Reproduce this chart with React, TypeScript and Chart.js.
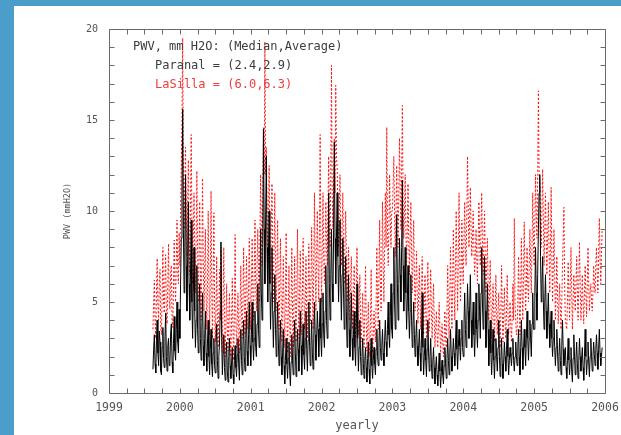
import { useEffect, useRef } from "react";
import { Chart, registerables } from "chart.js";

Chart.register(...registerables);

// ---- axis / labels ----
const xMin = 1999;
const xMax = 2006;
const yMin = 0;
const yMax = 20;
const xTitle = "yearly";
const yTitle = "PWV (mmH2O)";
const headerText = "PWV, mm H2O: (Median,Average)";
const paranalText = "Paranal = (2.4,2.9)";
const lasillaText = "LaSilla = (6.0,6.3)";

// ---- sampling: one reading every 0.01 yr ----
const sampleStep = 0.01;
const segmentStarts = [1999.62, 2000, 2001, 2002, 2003, 2004, 2005];

// ---- Paranal (black) ----
const paranal1999 = [
  1.3, 2.4, 3.2, 1.6, 1.1, 2.9, 4.0, 2.2, 1.5, 3.4,
  2.8, 1.2, 1.0, 2.5, 3.6, 1.9, 1.4, 3.1, 4.4, 2.0,
  1.2, 2.6, 3.0, 1.5, 1.6, 3.3, 3.8, 1.7, 1.1, 2.7,
  4.2, 2.3, 1.8, 3.5, 5.0, 2.8, 2.2, 4.6,
];
const paranal2000 = [
  3.0, 6.0, 8.5, 11.0, 15.6, 9.0, 5.5, 8.0, 12.0, 7.0,
  4.5, 7.5, 10.5, 6.0, 4.0, 6.5, 9.5, 5.0, 3.0, 5.5,
  8.0, 4.5, 2.5, 4.0, 7.0, 3.5, 2.2, 4.8, 6.0, 3.0,
  1.8, 3.5, 5.5, 2.6, 1.5, 3.0, 4.5, 2.2, 1.2, 2.8,
  4.0, 2.0, 1.0, 2.4, 3.5, 1.6, 0.9, 2.2, 3.0, 1.5,
  1.1, 2.6, 3.8, 1.8, 0.8, 2.0, 2.8, 4.5, 8.3, 3.0,
  1.0, 2.2, 3.2, 1.4, 0.7, 1.9, 2.8, 1.2, 0.6, 2.0,
  3.0, 1.5, 0.8, 1.7, 2.5, 1.0, 0.5, 1.8, 2.6, 1.4,
  0.9, 2.1, 3.0, 1.6, 0.7, 2.4, 3.5, 1.8, 1.0, 2.6,
  4.0, 2.0, 1.2, 3.0, 4.5, 2.3, 1.5, 3.2, 5.0, 2.6,
];
const paranal2001 = [
  1.5, 3.2, 5.0, 2.8, 1.8, 3.0, 4.5, 2.5, 2.0, 3.8,
  6.0, 3.5, 2.5, 5.0, 9.0, 5.5, 4.0, 8.0, 14.5, 9.0,
  6.0, 9.5, 13.0, 8.0, 5.0, 7.5, 10.0, 6.0, 3.5, 5.5,
  8.0, 4.5, 2.5, 4.5, 6.5, 3.5, 2.0, 3.5, 5.0, 2.8,
  1.5, 2.8, 4.0, 2.0, 1.0, 2.2, 3.5, 1.5, 0.5, 1.8,
  3.0, 1.6, 0.8, 1.9, 2.8, 1.2, 0.4, 1.7, 3.2, 1.8,
  1.0, 2.5, 4.0, 2.2, 0.9, 2.0, 3.5, 2.4, 1.2, 2.8,
  4.5, 2.6, 1.0, 2.5, 3.8, 2.1, 1.3, 3.0, 4.5, 2.4,
  1.2, 2.9, 5.0, 2.8, 1.5, 2.6, 4.0, 2.2, 1.3, 3.0,
  5.0, 3.2, 1.8, 3.0, 4.5, 3.5, 2.0, 3.6, 5.2, 3.0,
];
const paranal2002 = [
  2.0, 3.8, 5.5, 3.2, 2.5, 4.5, 7.0, 4.0, 3.0, 6.5,
  11.0, 6.0, 4.0, 6.5, 9.0, 6.0, 5.0, 9.0, 13.8, 8.5,
  6.0, 8.5, 11.0, 7.5, 5.0, 7.0, 9.5, 6.0, 4.0, 6.5,
  8.5, 5.5, 3.5, 5.5, 7.5, 4.5, 2.5, 4.5, 6.5, 3.5,
  2.0, 3.5, 5.5, 3.0, 1.8, 3.2, 4.5, 2.5, 1.5, 3.5,
  6.0, 3.0, 1.2, 2.5, 4.0, 2.0, 1.0, 2.0, 3.0, 1.6,
  0.8, 1.8, 2.5, 1.4, 0.6, 1.9, 2.8, 1.3, 0.5, 2.0,
  3.0, 1.5, 0.8, 1.8, 2.5, 1.6, 1.0, 2.4, 3.5, 2.0,
  1.5, 2.8, 4.0, 2.5, 1.8, 2.6, 3.5, 2.2, 1.5, 2.9,
  4.0, 2.8, 2.0, 3.5, 5.0, 3.2, 2.5, 4.2, 6.0, 3.5,
];
const paranal2003 = [
  3.0, 5.5, 8.0, 5.0, 3.5, 6.5, 9.8, 6.0, 4.0, 6.0,
  8.5, 6.5, 5.0, 8.0, 11.7, 7.0, 4.5, 6.0, 8.0, 5.5,
  3.5, 5.0, 7.0, 4.5, 3.0, 4.5, 6.5, 4.0, 2.5, 3.8,
  5.0, 3.2, 2.0, 3.0, 4.0, 2.6, 1.5, 2.5, 3.5, 2.2,
  1.2, 3.0, 5.5, 2.5, 1.0, 2.0, 3.0, 1.8, 0.9, 2.4,
  4.0, 2.2, 1.2, 2.0, 3.0, 1.6, 0.8, 1.7, 2.5, 1.4,
  0.5, 1.4, 2.0, 1.0, 0.4, 1.3, 2.2, 1.2, 0.3, 1.1,
  1.8, 1.0, 0.5, 1.5, 2.5, 1.6, 0.8, 1.9, 3.0, 1.8,
  1.0, 2.2, 3.5, 2.0, 1.2, 2.1, 3.0, 2.2, 1.5, 2.8,
  4.0, 2.4, 1.3, 2.5, 3.5, 2.6, 1.8, 3.0, 4.0, 2.5,
];
const paranal2004 = [
  2.0, 3.8, 5.5, 3.5, 2.5, 4.0, 6.0, 4.5, 3.0, 4.8,
  6.5, 4.0, 2.5, 3.8, 5.0, 3.2, 2.0, 3.5, 5.5, 3.5,
  2.5, 4.0, 6.0, 4.5, 3.0, 5.5, 8.0, 5.0, 3.5, 5.5,
  7.5, 4.5, 2.5, 4.0, 6.0, 3.5, 1.5, 2.8, 4.0, 2.2,
  1.0, 2.2, 3.5, 1.8, 0.8, 2.0, 3.0, 2.0, 1.2, 2.5,
  4.0, 2.0, 0.9, 1.8, 3.0, 1.6, 0.8, 1.7, 2.8, 2.0,
  1.2, 2.4, 3.5, 2.0, 1.0, 1.8, 2.5, 2.0, 1.5, 2.2,
  3.0, 1.8, 1.2, 2.0, 2.8, 2.0, 1.5, 2.6, 3.5, 2.0,
  1.0, 2.5, 4.0, 2.5, 1.3, 2.3, 3.5, 2.5, 1.5, 3.0,
  4.5, 3.0, 1.8, 3.0, 4.0, 3.0, 2.0, 3.8, 5.5, 3.5,
];
const paranal2005 = [
  3.5, 5.5, 8.0, 5.5, 4.0, 6.5, 9.0, 11.0, 12.0, 7.5,
  5.0, 6.0, 7.5, 5.0, 3.5, 5.0, 6.5, 4.5, 3.0, 4.2,
  5.5, 3.8, 2.5, 3.5, 4.5, 3.0, 2.0, 3.0, 4.0, 2.5,
  1.5, 2.5, 3.5, 2.2, 1.2, 2.0, 3.0, 1.8, 1.0, 2.6,
  4.0, 2.4, 1.5, 2.0, 2.5, 1.4, 0.8, 1.8, 3.0, 1.8,
  1.0, 1.8, 2.5, 1.2, 0.6, 1.9, 3.2, 2.0, 1.0, 1.9,
  2.8, 1.6, 0.8, 1.8, 3.0, 2.0, 1.2, 1.9, 2.5, 1.4,
  0.7, 2.0, 3.5, 2.0, 1.0, 1.8, 2.8, 1.7, 0.9, 2.0,
  3.0, 2.0, 1.2, 2.0, 2.8, 2.1, 1.5, 2.4, 3.2, 2.2,
  1.3, 2.4, 3.5, 2.2, 1.5, 2.0, 2.5,
];

// ---- La Silla (red, dotted) ----
const lasilla1999 = [
  3.5, 5.0, 6.2, 4.1, 3.0, 5.6, 7.4, 4.8, 4.0, 6.1,
  6.8, 3.6, 3.2, 5.4, 8.0, 5.0, 4.4, 6.3, 7.6, 4.2,
  3.8, 6.0, 8.2, 5.1, 4.6, 6.6, 7.0, 4.0, 3.6, 5.9,
  8.4, 6.2, 5.0, 7.3, 9.5, 6.6, 6.0, 8.8,
];
const lasilla2000 = [
  7.0, 10.0, 12.5, 15.0, 19.5, 12.0, 9.0, 11.5, 13.5, 10.0,
  7.5, 10.5, 12.8, 9.0, 6.5, 10.0, 14.2, 9.5, 6.0, 8.5,
  11.0, 7.5, 5.5, 8.5, 12.2, 8.0, 5.0, 7.5, 10.5, 6.5,
  4.0, 7.0, 11.8, 7.5, 4.5, 6.5, 9.0, 5.5, 3.5, 6.0,
  10.0, 6.0, 3.2, 6.5, 11.1, 6.0, 3.0, 6.0, 9.9, 5.0,
  2.8, 4.5, 7.5, 4.0, 2.5, 4.5, 6.8, 4.0, 8.0, 5.0,
  2.2, 5.0, 8.0, 4.5, 2.0, 3.8, 6.0, 3.5, 2.3, 4.0,
  5.5, 3.2, 2.0, 4.0, 6.3, 3.5, 1.8, 4.5, 8.7, 4.0,
  2.5, 4.0, 5.5, 3.5, 2.2, 4.5, 7.0, 4.5, 3.0, 5.0,
  8.0, 5.0, 3.2, 5.5, 7.5, 5.0, 3.5, 6.0, 8.5, 5.5,
];
const lasilla2001 = [
  3.5, 6.0, 8.5, 5.5, 4.0, 6.5, 9.5, 6.0, 4.5, 7.0,
  9.0, 6.5, 5.0, 8.5, 12.0, 9.0, 7.0, 10.5, 14.6, 12.0,
  19.3, 12.0, 13.5, 10.0, 7.5, 9.5, 12.5, 8.5, 6.0, 9.0,
  11.5, 7.5, 5.0, 8.0, 11.0, 7.0, 4.5, 7.0, 9.5, 5.5,
  3.5, 6.0, 8.5, 5.0, 2.8, 5.0, 7.5, 4.5, 2.5, 5.5,
  8.8, 4.5, 2.2, 4.5, 7.0, 4.0, 2.0, 5.0, 8.0, 4.5,
  2.5, 5.0, 7.5, 4.5, 2.8, 5.5, 9.0, 5.0, 3.0, 5.5,
  7.8, 5.0, 3.2, 5.5, 8.5, 5.5, 3.5, 5.0, 7.5, 4.5,
  3.0, 5.5, 8.2, 5.5, 3.8, 6.0, 9.1, 6.0, 3.5, 7.0,
  11.0, 7.0, 4.5, 7.5, 10.0, 7.0, 5.0, 9.0, 14.2, 8.0,
];
const lasilla2002 = [
  5.0, 8.0, 11.0, 7.5, 6.0, 8.0, 10.5, 8.0, 7.0, 10.0,
  13.0, 10.0, 8.0, 12.0, 18.0, 11.0, 9.0, 11.5, 14.0, 11.0,
  16.9, 13.0, 12.4, 10.0, 8.0, 10.0, 12.0, 9.0, 7.0, 9.0,
  11.0, 8.0, 6.0, 8.0, 10.0, 7.5, 5.0, 6.5, 8.0, 5.5,
  4.0, 6.0, 7.5, 5.0, 3.5, 5.0, 7.0, 4.5, 3.0, 5.5,
  8.0, 5.0, 3.2, 5.0, 6.5, 4.0, 2.8, 4.0, 5.5, 3.5,
  2.5, 4.5, 7.0, 4.0, 2.3, 3.5, 5.0, 3.0, 2.0, 4.0,
  6.8, 3.5, 2.2, 3.2, 4.5, 3.5, 2.8, 5.0, 8.0, 5.0,
  3.5, 6.5, 9.5, 6.0, 4.5, 7.0, 10.5, 7.0, 5.0, 8.0,
  11.0, 8.0, 14.6, 9.0, 7.0, 9.0, 12.0, 9.5, 8.0, 10.0,
];
const lasilla2003 = [
  10.0, 11.5, 13.0, 10.0, 7.5, 10.0, 12.5, 10.0, 8.0, 11.0,
  14.0, 11.0, 9.0, 12.0, 15.8, 11.0, 8.5, 10.0, 12.0, 9.0,
  7.0, 9.0, 11.5, 8.5, 6.5, 8.5, 10.5, 8.0, 5.5, 7.5,
  9.5, 6.5, 4.5, 6.0, 7.8, 5.5, 3.8, 5.5, 7.0, 5.0,
  3.5, 5.5, 7.5, 5.0, 3.2, 5.0, 6.5, 4.5, 3.0, 5.0,
  7.2, 5.0, 3.4, 5.0, 6.8, 4.5, 3.0, 4.5, 6.0, 4.0,
  2.5, 3.5, 4.5, 3.2, 2.5, 3.8, 5.0, 3.5, 2.2, 3.0,
  3.8, 2.8, 2.0, 3.0, 4.5, 3.0, 2.5, 4.5, 7.0, 4.5,
  3.0, 5.5, 8.0, 5.5, 3.5, 6.0, 9.0, 6.0, 4.0, 7.0,
  10.0, 7.0, 4.5, 7.5, 11.0, 7.5, 5.0, 7.0, 9.5, 7.0,
];
const lasilla2004 = [
  6.0, 8.5, 10.5, 8.0, 7.0, 10.0, 13.0, 10.0, 8.0, 9.5,
  11.3, 9.0, 7.5, 8.5, 10.0, 8.0, 6.5, 7.5, 9.0, 7.5,
  6.0, 8.5, 10.5, 8.5, 7.0, 9.0, 11.0, 8.5, 6.5, 8.0,
  10.0, 7.5, 5.5, 7.0, 8.5, 6.0, 4.0, 5.5, 7.3, 5.0,
  3.0, 4.5, 6.0, 4.5, 2.8, 4.5, 6.5, 4.5, 3.2, 4.5,
  5.5, 4.0, 2.5, 4.5, 7.0, 4.5, 2.8, 4.2, 5.8, 4.0,
  3.0, 4.5, 6.5, 4.5, 3.2, 4.0, 5.0, 3.8, 2.8, 4.0,
  6.0, 4.0, 9.6, 5.0, 4.0, 3.2, 3.5, 5.0, 7.5, 5.0,
  3.2, 5.5, 8.5, 5.5, 4.0, 6.5, 9.4, 6.5, 4.5, 6.0,
  8.0, 6.0, 5.0, 7.0, 9.0, 7.0, 5.5, 8.0, 11.0, 8.5,
];
const lasilla2005 = [
  7.0, 9.5, 12.0, 9.5, 8.5, 12.0, 16.6, 12.0, 11.5, 9.5,
  8.0, 10.0, 12.3, 9.5, 7.0, 9.0, 11.0, 8.5, 6.5, 8.5,
  10.5, 8.0, 5.5, 8.0, 11.3, 7.5, 5.0, 7.0, 9.0, 6.5,
  4.0, 5.5, 7.5, 5.5, 3.8, 5.0, 6.0, 4.5, 3.5, 5.0,
  7.0, 8.5, 10.2, 6.0, 4.0, 3.8, 3.5, 5.0, 7.2, 5.5,
  4.0, 6.0, 8.0, 5.5, 3.5, 5.0, 6.5, 5.5, 4.5, 6.0,
  7.5, 5.5, 4.0, 6.0, 8.3, 6.0, 4.0, 5.0, 6.5, 5.0,
  3.8, 5.5, 7.0, 5.5, 4.2, 6.0, 8.0, 6.0, 4.5, 5.5,
  6.0, 5.0, 4.5, 5.5, 7.0, 6.0, 5.5, 7.0, 8.0, 6.5,
  5.5, 7.5, 9.6, 7.5, 6.0, 7.5, 9.0,
];

const paranalSegments = [paranal1999, paranal2000, paranal2001, paranal2002, paranal2003, paranal2004, paranal2005];
const lasillaSegments = [lasilla1999, lasilla2000, lasilla2001, lasilla2002, lasilla2003, lasilla2004, lasilla2005];

function toPoints(segments: number[][]) {
  const pts: { x: number; y: number }[] = [];
  segments.forEach((seg, s) => {
    seg.forEach((v, i) => {
      pts.push({ x: Number((segmentStarts[s] + i * sampleStep).toFixed(3)), y: v });
    });
  });
  return pts;
}

const FONT = "DejaVu Sans Mono";

const frameTicksPlugin = {
  id: "frameTicks",
  afterDraw(chart: any) {
    const { ctx, chartArea: a, scales } = chart;
    const xs = scales.x;
    const ys = scales.y;
    const L = Math.round(a.left) + 0.5;
    const R = Math.round(a.right) + 0.5;
    const T = Math.round(a.top) + 0.5;
    const B = Math.round(a.bottom) + 0.5;
    ctx.save();
    ctx.strokeStyle = "#6a6a6a";
    ctx.lineWidth = 1;
    ctx.beginPath();
    ctx.rect(L, T, R - L, B - T);
    const tl = 5;
    for (let q = xMin * 4; q <= xMax * 4; q++) {
      const px = Math.round(xs.getPixelForValue(q / 4)) + 0.5;
      ctx.moveTo(px, B);
      ctx.lineTo(px, B - tl);
      ctx.moveTo(px, T);
      ctx.lineTo(px, T + tl);
    }
    for (let v = yMin; v <= yMax; v++) {
      const py = Math.round(ys.getPixelForValue(v)) + 0.5;
      ctx.moveTo(L, py);
      ctx.lineTo(L + tl, py);
      ctx.moveTo(R, py);
      ctx.lineTo(R - tl, py);
    }
    ctx.stroke();

    ctx.font = `12px ${FONT}`;
    ctx.textBaseline = "middle";
    ctx.textAlign = "left";
    ctx.fillStyle = "#3c3c3c";
    ctx.fillText(headerText, a.left + 24, a.top + 18);
    ctx.fillText(paranalText, a.left + 46, a.top + 37);
    ctx.fillStyle = "#ee3b3b";
    ctx.fillText(lasillaText, a.left + 46, a.top + 56);
    ctx.restore();
  },
};

export default function App() {
  const canvasRef = useRef<HTMLCanvasElement | null>(null);

  useEffect(() => {
    if (!canvasRef.current) return;
    const chart = new Chart(canvasRef.current, {
      type: "line",
      data: {
        datasets: [
          {
            label: "Paranal",
            data: toPoints(paranalSegments),
            borderColor: "#000000",
            borderWidth: 1,
            pointRadius: 0,
            tension: 0,
            order: 0,
          },
          {
            label: "LaSilla",
            data: toPoints(lasillaSegments),
            borderColor: "#ff1010",
            borderWidth: 1,
            borderDash: [2, 2],
            pointRadius: 0,
            tension: 0,
            order: 1,
          },
        ],
      },
      options: {
        animation: false,
        responsive: false,
        events: [],
        layout: { padding: { left: 0, right: 49, top: 23, bottom: 0 } },
        plugins: {
          legend: { display: false },
          tooltip: { enabled: false },
        },
        scales: {
          x: {
            type: "linear",
            min: xMin,
            max: xMax,
            afterFit: (s: any) => {
              s.height = 42;
            },
            grid: { display: false, drawTicks: false },
            border: { display: false },
            ticks: {
              stepSize: 1,
              autoSkip: false,
              maxRotation: 0,
              padding: 8,
              color: "#555555",
              font: { family: FONT, size: 11.5 },
              callback: (v: any) => String(v),
            },
            title: {
              display: true,
              text: xTitle,
              color: "#555555",
              font: { family: FONT, size: 12 },
              padding: { top: 0, bottom: 2 },
            },
          },
          y: {
            type: "linear",
            min: yMin,
            max: yMax,
            afterFit: (s: any) => {
              s.width = 95;
            },
            grid: { display: false, drawTicks: false },
            border: { display: false },
            ticks: {
              stepSize: 5,
              padding: 11,
              color: "#555555",
              font: { family: FONT, size: 10 },
            },
            title: {
              display: true,
              text: yTitle,
              color: "#555555",
              font: { family: FONT, size: 8.5 },
              padding: { top: 49, bottom: 0 },
            },
          },
        },
      },
      plugins: [frameTicksPlugin],
    });
    return () => chart.destroy();
  }, []);

  return (
    <div
      style={{
        position: "fixed",
        left: 0,
        top: 0,
        width: 621,
        height: 435,
        background: "#4b9dca",
        overflow: "hidden",
      }}
    >
      <div
        style={{
          position: "absolute",
          left: 14,
          top: 6,
          width: 640,
          height: 429,
          background: "#ffffff",
        }}
      >
        <canvas ref={canvasRef} width={640} height={429} style={{ display: "block" }} />
      </div>
    </div>
  );
}
